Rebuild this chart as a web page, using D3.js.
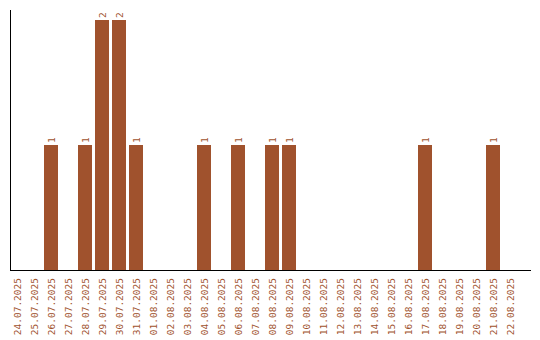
<!DOCTYPE html>
<html>
<head>
<meta charset="utf-8">
<title>Daily count</title>
<script src="https://cdn.jsdelivr.net/npm/d3@7"></script>
<style>
  body { margin: 0; background: #fff; }
  text { font-family: "DejaVu Sans Mono", monospace; -webkit-font-smoothing: none; }
</style>
</head>
<body>
<script>
// dates and counts
var dates = ['24.07.2025', '25.07.2025', '26.07.2025', '27.07.2025', '28.07.2025', '29.07.2025',
  '30.07.2025', '31.07.2025', '01.08.2025', '02.08.2025', '03.08.2025', '04.08.2025',
  '05.08.2025', '06.08.2025', '07.08.2025', '08.08.2025', '09.08.2025', '10.08.2025',
  '11.08.2025', '12.08.2025', '13.08.2025', '14.08.2025', '15.08.2025', '16.08.2025',
  '17.08.2025', '18.08.2025', '19.08.2025', '20.08.2025', '21.08.2025', '22.08.2025'];
var counts = [0, 0, 1, 0, 1, 2, 2, 1, 0, 0, 0, 1, 0, 1, 0, 1, 1, 0, 0, 0, 0, 0, 0, 0, 1, 0, 0, 0, 1, 0];

var width = 540, height = 340;
var color = '#a0522d';

var svg = d3.select('body').append('svg')
  .attr('width', width)
  .attr('height', height);

var x = d3.scaleBand()
  .domain(dates)
  .range([10, 517])
  .paddingInner(3 / 17)
  .paddingOuter(0);

var y = d3.scaleLinear()
  .domain([0, 2])
  .range([270, 20]);

var data = dates.map(function(d, i) { return { date: d, value: counts[i] }; });

// bars
svg.selectAll('rect.bar')
  .data(data.filter(function(d) { return d.value > 0; }))
  .enter().append('rect')
  .attr('class', 'bar')
  .attr('x', function(d) { return x(d.date); })
  .attr('y', function(d) { return y(d.value); })
  .attr('width', x.bandwidth())
  .attr('height', function(d) { return y(0) - y(d.value); })
  .attr('fill', color);

// value labels
svg.selectAll('text.val')
  .data(data.filter(function(d) { return d.value > 0; }))
  .enter().append('text')
  .attr('class', 'val')
  .attr('transform', function(d) {
    return 'translate(' + (x(d.date) + x.bandwidth() / 2 + 4) + ',' + (y(d.value) - 2) + ') rotate(-90)';
  })
  .attr('font-size', '9.5px')
  .attr('fill', color)
  .text(function(d) { return d.value; });

// x axis
var xAxis = svg.append('g')
  .attr('transform', 'translate(0,270)')
  .call(d3.axisBottom(x).tickSize(0).tickPadding(0));
xAxis.select('.domain').remove();
xAxis.selectAll('text')
  .attr('font-size', '9.5px')
  .attr('font-family', '"DejaVu Sans Mono", monospace')
  .attr('fill', color)
  .attr('text-anchor', 'end')
  .attr('dy', null)
  .attr('y', null)
  .attr('transform', 'translate(4,8) rotate(-90)');

// axis lines
svg.append('line')
  .attr('x1', 10.5).attr('x2', 10.5)
  .attr('y1', 10).attr('y2', 270)
  .attr('stroke', '#000');
svg.append('line')
  .attr('x1', 10).attr('x2', 531)
  .attr('y1', 270.5).attr('y2', 270.5)
  .attr('stroke', '#000');
</script>
</body>
</html>
